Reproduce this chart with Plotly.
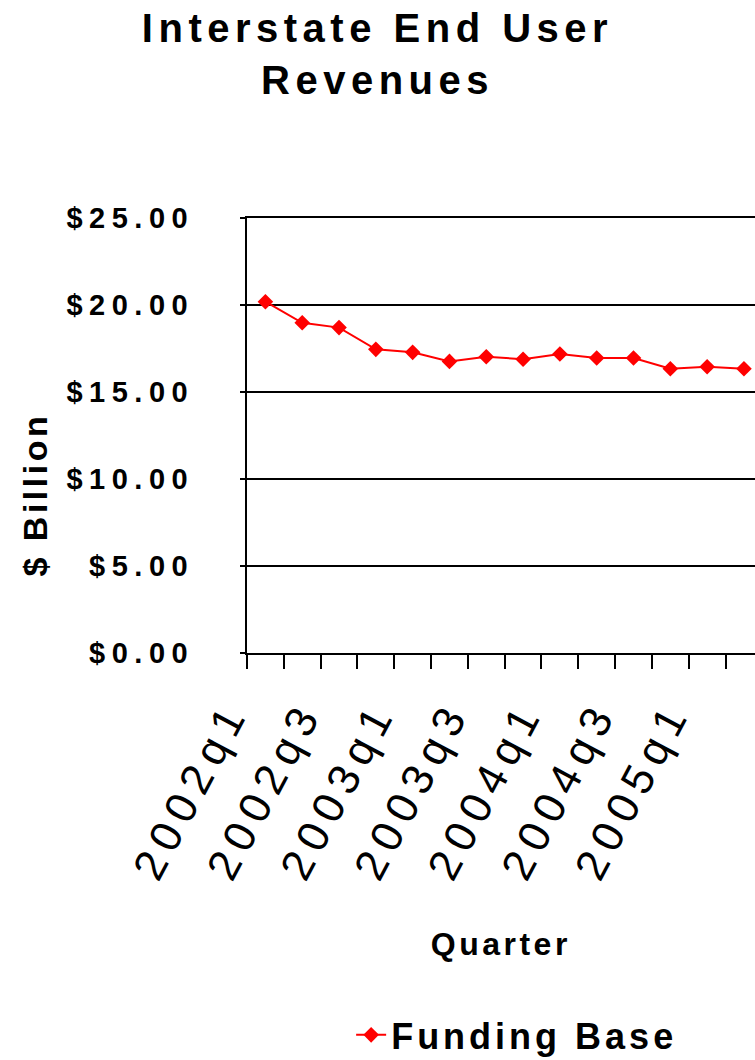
import plotly.graph_objects as go

quarters = ["2002q1", "2002q2", "2002q3", "2002q4",
            "2003q1", "2003q2", "2003q3", "2003q4",
            "2004q1", "2004q2", "2004q3", "2004q4",
            "2005q1", "2005q2"]
funding_base = [20.19, 18.98, 18.70, 17.45, 17.28, 16.76, 17.03,
                16.88, 17.18, 16.95, 16.95, 16.34, 16.45, 16.34]
tick_text = [q if i % 2 == 0 else "" for i, q in enumerate(quarters)]

FONT = "Liberation Sans, Arial, sans-serif"

fig = go.Figure()
fig.add_trace(go.Scatter(
    x=quarters, y=funding_base, mode="lines+markers", name="Funding Base",
    line=dict(color="#ff0000", width=2),
    marker=dict(symbol="diamond", size=12, color="#ff0000"),
))

fig.update_layout(
    width=755, height=1060,
    paper_bgcolor="white", plot_bgcolor="white",
    margin=dict(l=247, r=0, t=218, b=407, autoexpand=False),
    font=dict(family=FONT, color="black"),
    title=dict(text="Interstate End User<br>Revenues", x=0.5, xref="container",
               xanchor="center", y=0.96, yanchor="top",
               font=dict(size=40, family=FONT, weight="bold", color="black")),
    showlegend=True,
    legend=dict(orientation="h", x=0.205, xanchor="left", y=-0.878, yanchor="middle",
                entrywidth=340, entrywidthmode="pixels",
                font=dict(size=36, family=FONT, weight="bold", color="black"),
                bgcolor="rgba(0,0,0,0)"),
    xaxis=dict(type="category", range=[-0.5, 13.3], tickson="boundaries",
               tickmode="array", tickvals=quarters, ticktext=tick_text,
               tickangle=-62, ticks="outside", ticklen=14, tickwidth=1.5, tickcolor="black",
               tickfont=dict(size=44, family=FONT, color="black"),
               ticklabelstandoff=15, ticklabelshift=-35,
               showline=True, linecolor="black", linewidth=2, mirror=True, showgrid=False),
    yaxis=dict(range=[0, 25], tickmode="linear", tick0=0, dtick=5,
               tickprefix="$", tickformat=".2f",
               ticks="outside", ticklen=5, tickwidth=1.5, tickcolor="black",
               ticklabelstandoff=40,
               tickfont=dict(size=29, family=FONT, weight="bold", color="black"),
               showline=True, linecolor="black", linewidth=2,
               showgrid=True, gridcolor="black", gridwidth=1.5, zeroline=False),
    annotations=[
        dict(text="$ Billion", textangle=-90, xref="paper", yref="paper",
             x=-0.418, y=0.363, xanchor="center", yanchor="middle", showarrow=False,
             font=dict(size=34, family=FONT, weight="bold", color="black")),
        dict(text="Quarter", xref="paper", yref="paper",
             x=0.5, y=-0.670, xanchor="center", yanchor="middle", showarrow=False,
             font=dict(size=32, family=FONT, weight="bold", color="black")),
    ],
)

post = """
document.body.style.margin = '0';
var gd = document.getElementsByClassName('plotly-graph-div')[0];
function sp(){
  var rules = [['.gtitle', '5.5px'], ['.annotation-text', '3.5px'],
               ['.xaxislayer-above text', '8px'],
               ['.yaxislayer-above text', '6.5px'], ['.legendtext', '4px']];
  rules.forEach(function(r){
    gd.querySelectorAll(r[0]).forEach(function(t){ t.style.letterSpacing = r[1]; });
  });
}
sp();
gd.on('plotly_afterplot', sp);
"""

fig.write_html("out.html", post_script=post, config={"displayModeBar": False})
